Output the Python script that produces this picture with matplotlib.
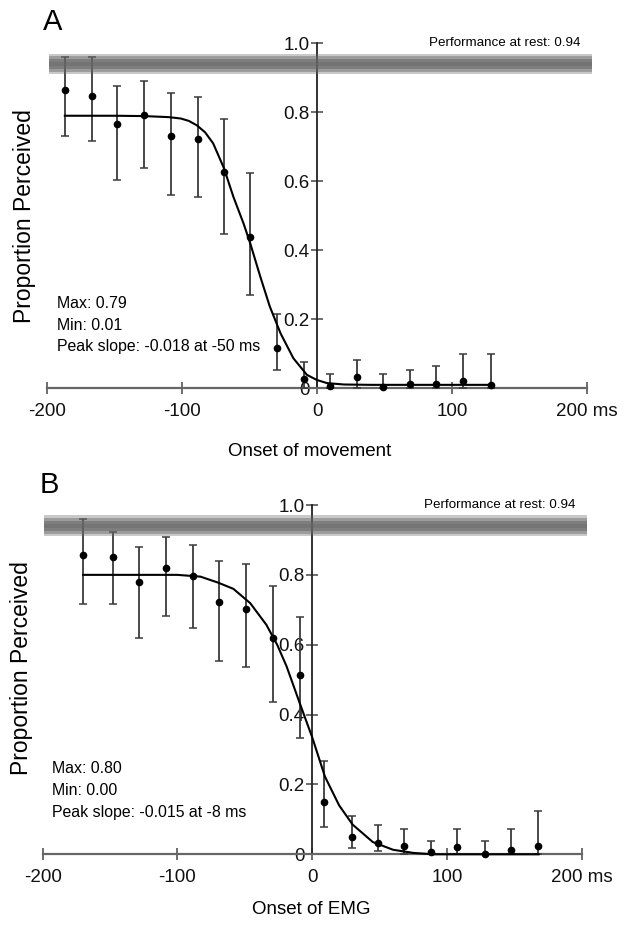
import matplotlib
matplotlib.use("Agg")
import matplotlib.pyplot as plt

# Panel A - onset of movement
a_onset = [-187, -167, -148, -128, -108, -88, -69, -49.5, -30, -10, 10, 30, 49, 69, 88, 108, 129]
a_prop = [0.865, 0.847, 0.765, 0.792, 0.732, 0.723, 0.628, 0.439, 0.116, 0.028,
          0.007, 0.034, 0.003, 0.012, 0.012, 0.021, 0.010]
a_low = [0.731, 0.718, 0.604, 0.639, 0.560, 0.554, 0.446, 0.270, 0.054, 0.0,
         0.0, 0.0, 0.0, 0.0, 0.0, 0.0, 0.0]
a_high = [0.96, 0.96, 0.876, 0.892, 0.855, 0.845, 0.780, 0.623, 0.214, 0.076,
          0.041, 0.082, 0.041, 0.053, 0.065, 0.100, 0.100]
a_fit_x = [-187, -150, -128, -110, -101, -95, -89, -83, -77, -69, -62, -54.5, -49.5,
           -42, -35, -27, -17.5, -7.5, 0, 7.5, 20, 40, 129]
a_fit_y = [0.790, 0.790, 0.789, 0.786, 0.782, 0.775, 0.762, 0.742, 0.710, 0.638, 0.555,
           0.478, 0.420, 0.323, 0.237, 0.159, 0.087, 0.039, 0.024, 0.015, 0.011, 0.010, 0.010]
a_stats = ["Max: 0.79", "Min: 0.01", "Peak slope: -0.018 at -50 ms"]
a_rest = 0.94
a_xlabel = "Onset of movement"

# Panel B - onset of EMG
b_onset = [-170, -148, -128.6, -108.6, -88.8, -68.8, -49, -29.2, -9.4, 9,
           29.4, 48.7, 68.2, 88.1, 107.8, 127.9, 147.7, 167.9]
b_prop = [0.858, 0.850, 0.779, 0.821, 0.797, 0.722, 0.702, 0.619, 0.512, 0.151,
          0.050, 0.033, 0.025, 0.007, 0.022, 0.0, 0.012, 0.025]
b_low = [0.717, 0.716, 0.619, 0.681, 0.648, 0.552, 0.536, 0.435, 0.332, 0.079,
         0.018, 0.010, 0.0, 0.0, 0.0, 0.0, 0.0, 0.0]
b_high = [0.96, 0.924, 0.879, 0.907, 0.886, 0.841, 0.831, 0.768, 0.680, 0.268,
          0.109, 0.083, 0.073, 0.038, 0.072, 0.038, 0.072, 0.124]
b_fit_x = [-170, -130, -100, -83, -70, -58.5, -46, -34, -26, -19, -9, 0, 9.5,
           20, 30, 45, 60, 75, 90, 168]
b_fit_y = [0.800, 0.800, 0.800, 0.795, 0.778, 0.760, 0.719, 0.657, 0.600, 0.538,
           0.430, 0.335, 0.222, 0.140, 0.085, 0.035, 0.013, 0.004, 0.0, 0.0]
b_stats = ["Max: 0.80", "Min: 0.00", "Peak slope: -0.015 at -8 ms"]
b_rest = 0.94
b_xlabel = "Onset of EMG"

x_ticks = [-200, -100, 0, 100, 200]
x_ticklabels = ["-200", "-100", "0", "100", "200 ms"]
y_ticks = [0, 0.2, 0.4, 0.6, 0.8, 1.0]
y_ticklabels = ["0", "0.2", "0.4", "0.6", "0.8", "1.0"]

W, H = 627, 925

plt.rcParams['font.family'] = ["Liberation Sans", "DejaVu Sans"]


def fx(px):
    return px / W


def fy(py):
    return 1 - py / H


def draw_panel(fig, rect, onset, prop, low, high, fit_x, fit_y, stats, rest,
               xlabel, letter, letter_pos, ylabel_pos, xlabel_pos):
    ax = fig.add_axes(rect)
    ax.set_xlim(-200, 200)
    ax.set_ylim(0, 1.0)
    for s in ["top", "right"]:
        ax.spines[s].set_visible(False)
    ax.spines["left"].set_position(("data", 0))
    ax.spines["bottom"].set_position(("data", 0))
    ax.spines["left"].set_color("#222222")
    ax.spines["bottom"].set_color("#666666")
    ax.spines["left"].set_linewidth(1.3)
    ax.spines["bottom"].set_linewidth(1.6)
    ax.set_xticks(x_ticks)
    ax.set_xticklabels(x_ticklabels)
    ax.set_yticks(y_ticks)
    ax.set_yticklabels(y_ticklabels)
    ax.tick_params(axis="both", direction="inout", length=9, width=1.2,
                   colors="#555555", labelcolor="#111111", labelsize=13.5)
    ax.tick_params(axis="x", pad=6)
    ax.tick_params(axis="y", pad=1)

    # performance at rest band (scanned, fuzzy grey stripe)
    for half, alpha in [(0.03, 0.35), (0.024, 0.45), (0.015, 0.55), (0.007, 0.4)]:
        ax.fill_between([-199, 204], rest - half, rest + half, color="#666666",
                        alpha=alpha, lw=0, clip_on=False, zorder=4)
    ax.text(83, 1.0, "Performance at rest: %.2f" % rest,
            fontsize=9.6, ha="left", va="center", clip_on=False)

    # data with error bars
    lo_err = [p - lo for p, lo in zip(prop, low)]
    hi_err = [hi - p for p, hi in zip(prop, high)]
    eb = ax.errorbar(onset, prop, yerr=[lo_err, hi_err], fmt="o", ms=4.5,
                     color="black", ecolor="#3a3a3a", elinewidth=1.3,
                     capsize=3, capthick=1.1, zorder=3)
    for child in eb.get_children():
        child.set_clip_on(False)

    # fitted curve
    ax.plot(fit_x, fit_y, color="black", lw=1.5, zorder=3, clip_on=False)

    for i, line in enumerate(stats):
        ax.text(-193, 0.246 - i * 0.063, line, fontsize=11.4,
                ha="left", va="center")

    fig.text(fx(letter_pos[0]), fy(letter_pos[1]), letter, fontsize=21,
             ha="center", va="center")
    fig.text(fx(ylabel_pos[0]), fy(ylabel_pos[1]), "Proportion Perceived",
             rotation=90, fontsize=16.5, ha="center", va="center")
    fig.text(fx(xlabel_pos[0]), fy(xlabel_pos[1]), xlabel, fontsize=13.5,
             ha="center", va="center")
    return ax


fig = plt.figure(figsize=(W / 100, H / 100), dpi=100)

rect_a = [fx(47.3), fy(388.3), (586.7 - 47.3) / W, (388.3 - 43.3) / H]
rect_b = [fx(42.7), fy(854.3), (581.7 - 42.7) / W, (854.3 - 505.0) / H]

draw_panel(fig, rect_a, a_onset, a_prop, a_low, a_high, a_fit_x, a_fit_y,
           a_stats, a_rest, a_xlabel, "A", (53, 22), (25, 216), (310, 451))
draw_panel(fig, rect_b, b_onset, b_prop, b_low, b_high, b_fit_x, b_fit_y,
           b_stats, b_rest, b_xlabel, "B", (49, 485), (22, 668), (311, 910))

fig.savefig("out.png", dpi=100)
